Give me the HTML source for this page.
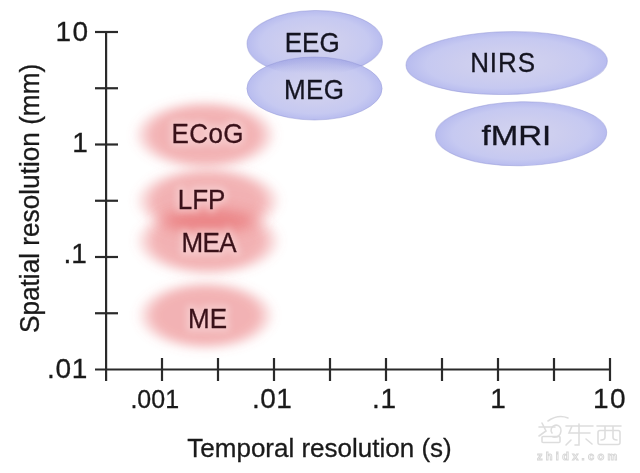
<!DOCTYPE html>
<html>
<head>
<meta charset="utf-8">
<style>
html,body{margin:0;padding:0;background:#fff;width:640px;height:473px;overflow:hidden;}
svg{display:block;will-change:transform;filter:blur(0.35px);}
text{font-family:"Liberation Sans",sans-serif;}
</style>
</head>
<body>
<svg width="640" height="473" viewBox="0 0 640 473">
<defs>
  <radialGradient id="blue" cx="50%" cy="50%" r="50%" fx="50%" fy="50%">
    <stop offset="0%" stop-color="#d3d4ef" stop-opacity="1"/>
    <stop offset="50%" stop-color="#cccdef" stop-opacity="1"/>
    <stop offset="80%" stop-color="#c6c9f1" stop-opacity="1"/>
    <stop offset="100%" stop-color="#b8bcef" stop-opacity="1"/>
  </radialGradient>
  <radialGradient id="pink" cx="50%" cy="50%" r="50%">
    <stop offset="0%" stop-color="#e86c70" stop-opacity="0.52"/>
    <stop offset="72%" stop-color="#e86c70" stop-opacity="0.52"/>
    <stop offset="100%" stop-color="#e86c70" stop-opacity="0.0"/>
  </radialGradient>
  <filter id="blur" x="-30%" y="-60%" width="160%" height="220%">
    <feGaussianBlur stdDeviation="4.5"/>
  </filter>
  <filter id="glow" x="-30%" y="-60%" width="160%" height="220%">
    <feGaussianBlur stdDeviation="3.5"/>
  </filter>
  <filter id="xblur" x="-50%" y="-100%" width="200%" height="300%">
    <feGaussianBlur stdDeviation="7"/>
  </filter>
  <filter id="bblur" x="-10%" y="-20%" width="120%" height="140%">
    <feGaussianBlur stdDeviation="0.5"/>
  </filter>
</defs>
<rect width="640" height="473" fill="#fff"/>
<g>
  <ellipse cx="205" cy="135" rx="72.5" ry="36" fill="url(#pink)" filter="url(#blur)"/>
  <ellipse cx="208" cy="201" rx="74" ry="35.5" fill="url(#pink)" filter="url(#blur)"/>
  <ellipse cx="208" cy="241" rx="74" ry="36" fill="url(#pink)" filter="url(#blur)"/>
  <ellipse cx="205.7" cy="315.5" rx="70" ry="36" fill="url(#pink)" filter="url(#blur)"/>
  <ellipse cx="210" cy="220" rx="55" ry="16" fill="#e86c70" fill-opacity="0.22" filter="url(#xblur)"/>
</g>
<g filter="url(#bblur)" opacity="1">
  <ellipse cx="314.75" cy="43" rx="67.7" ry="32.5" transform="rotate(-0.8 314.75 43)" fill="url(#blue)" stroke="rgba(150,154,215,0.5)" stroke-width="1"/>
  <ellipse cx="314.5" cy="88.5" rx="67.6" ry="31.5" fill="url(#blue)" stroke="rgba(150,154,215,0.5)" stroke-width="1"/>
  <ellipse cx="506.65" cy="63.1" rx="100.7" ry="31.4" transform="rotate(-1.25 506.65 63.1)" fill="url(#blue)" stroke="rgba(150,154,215,0.5)" stroke-width="1"/>
  <ellipse cx="521.15" cy="133.8" rx="85.6" ry="32" transform="rotate(-1 521.15 133.8)" fill="url(#blue)" stroke="rgba(150,154,215,0.5)" stroke-width="1"/>
<clipPath id="eegclip"><ellipse cx="314.75" cy="43" rx="67.7" ry="32.5" transform="rotate(-0.8 314.75 43)"/></clipPath>
<linearGradient id="lensg" gradientUnits="userSpaceOnUse" x1="0" y1="56.5" x2="0" y2="73"><stop offset="0" stop-color="#6c70c8" stop-opacity="0.24"/><stop offset="0.45" stop-color="#6c70c8" stop-opacity="0.17"/><stop offset="1" stop-color="#6c70c8" stop-opacity="0"/></linearGradient>
<ellipse cx="314.5" cy="88.5" rx="67.6" ry="31.5" fill="url(#lensg)" clip-path="url(#eegclip)"/>
</g>
<g stroke="#2a2a2a" stroke-width="2.2" fill="none" shape-rendering="auto">
  <line x1="106.1" y1="31" x2="106.1" y2="381"/>
  <line x1="95" y1="369.5" x2="611" y2="369.5"/>
  <line x1="95" y1="32" x2="118" y2="32"/>
  <line x1="95" y1="88.25" x2="118" y2="88.25"/>
  <line x1="95" y1="144.5" x2="118" y2="144.5"/>
  <line x1="95" y1="200.75" x2="118" y2="200.75"/>
  <line x1="95" y1="257" x2="118" y2="257"/>
  <line x1="95" y1="313.25" x2="118" y2="313.25"/>
  <line x1="162" y1="358" x2="162" y2="381"/>
  <line x1="218" y1="358" x2="218" y2="381"/>
  <line x1="274" y1="358" x2="274" y2="381"/>
  <line x1="330" y1="358" x2="330" y2="381"/>
  <line x1="386" y1="358" x2="386" y2="381"/>
  <line x1="442" y1="358" x2="442" y2="381"/>
  <line x1="498" y1="358" x2="498" y2="381"/>
  <line x1="554" y1="358" x2="554" y2="381"/>
  <line x1="610" y1="358" x2="610" y2="381"/>
</g>
<text transform="translate(55.6,40.8) scale(1,1)" font-size="28" letter-spacing="1.3" fill="#1a1a1a" stroke="#1a1a1a" stroke-width="0.3" font-family="Liberation Mono">10</text>
<text transform="translate(72.3,152.3) scale(1,1)" font-size="28" letter-spacing="0" fill="#1a1a1a" stroke="#1a1a1a" stroke-width="0.3" font-family="Liberation Mono">1</text>
<text transform="translate(63.5,262.5) scale(1,1)" font-size="28" letter-spacing="0" fill="#1a1a1a" stroke="#1a1a1a" stroke-width="0.3" font-family="Liberation Mono">.1</text>
<text transform="translate(46.9,377.7) scale(1,1)" font-size="28" letter-spacing="0.8" fill="#1a1a1a" stroke="#1a1a1a" stroke-width="0.3" font-family="Liberation Mono">.01</text>
<text transform="translate(130.4,408) scale(1,1.055)" font-size="25" letter-spacing="0" fill="#1a1a1a" stroke="#1a1a1a" stroke-width="0.3" font-family="Liberation Sans">.001</text>
<text transform="translate(252,407.5) scale(1,1)" font-size="28" letter-spacing="0.4" fill="#1a1a1a" stroke="#1a1a1a" stroke-width="0.3" font-family="Liberation Mono">.01</text>
<text transform="translate(372,407.5) scale(1,1)" font-size="28" letter-spacing="0.6" fill="#1a1a1a" stroke="#1a1a1a" stroke-width="0.3" font-family="Liberation Mono">.1</text>
<text transform="translate(490.3,407.5) scale(1,1)" font-size="28" letter-spacing="0" fill="#1a1a1a" stroke="#1a1a1a" stroke-width="0.3" font-family="Liberation Mono">1</text>
<text transform="translate(593,407.8) scale(1,1)" font-size="28" letter-spacing="1.5" fill="#1a1a1a" stroke="#1a1a1a" stroke-width="0.3" font-family="Liberation Mono">10</text>
<text transform="translate(187.3,457) scale(1,1.0)" font-size="26" letter-spacing="0" fill="#1a1a1a" stroke="#1a1a1a" stroke-width="0.3">Temporal resolution (s)</text>
<text transform="translate(38.5,333) rotate(-90) scale(1,1.03)" font-size="26.2" letter-spacing="0" fill="#1a1a1a" stroke="#1a1a1a" stroke-width="0.3">Spatial resolution (mm)</text>
<text transform="translate(284.7,52.2) scale(1,1.055)" font-size="26" letter-spacing="0" fill="#141420" stroke="#141420" stroke-width="0.3" font-family="Liberation Sans">EEG</text>
<text transform="translate(284,98.8) scale(1,1.055)" font-size="26" letter-spacing="0.4" fill="#141420" stroke="#141420" stroke-width="0.3" font-family="Liberation Sans">MEG</text>
<text transform="translate(470.2,71.6) scale(1,1.055)" font-size="26" letter-spacing="0.9" fill="#141420" stroke="#141420" stroke-width="0.3" font-family="Liberation Sans">NIRS</text>
<text transform="translate(481.5,144.6) scale(1.27,1.055)" font-size="26" letter-spacing="0" fill="#141420" stroke="#141420" stroke-width="0.3" font-family="Liberation Sans">fMRI</text>
<g opacity="0.3" filter="url(#glow)">
<text transform="translate(171.6,142.8) scale(1,1.055)" font-size="26" letter-spacing="0.4" fill="#ffffff" stroke="#ffffff" stroke-width="7" font-family="Liberation Sans">ECoG</text>
<text transform="translate(177.7,209.1) scale(1,1.055)" font-size="26" letter-spacing="0" fill="#ffffff" stroke="#ffffff" stroke-width="7" font-family="Liberation Sans">LFP</text>
<text transform="translate(181.5,252.1) scale(1,1.055)" font-size="26" letter-spacing="-0.6" fill="#ffffff" stroke="#ffffff" stroke-width="7" font-family="Liberation Sans">MEA</text>
<text transform="translate(188.1,327.5) scale(1,1.055)" font-size="26" letter-spacing="0" fill="#ffffff" stroke="#ffffff" stroke-width="7" font-family="Liberation Sans">ME</text>
</g>
<text transform="translate(171.6,142.8) scale(1,1.055)" font-size="26" letter-spacing="0.4" fill="#3a1119" stroke="#3a1119" stroke-width="0.3" font-family="Liberation Sans">ECoG</text>
<text transform="translate(177.7,209.1) scale(1,1.055)" font-size="26" letter-spacing="0" fill="#3a1119" stroke="#3a1119" stroke-width="0.3" font-family="Liberation Sans">LFP</text>
<text transform="translate(181.5,252.1) scale(1,1.055)" font-size="26" letter-spacing="-0.6" fill="#3a1119" stroke="#3a1119" stroke-width="0.3" font-family="Liberation Sans">MEA</text>
<text transform="translate(188.1,327.5) scale(1,1.055)" font-size="26" letter-spacing="0" fill="#3a1119" stroke="#3a1119" stroke-width="0.3" font-family="Liberation Sans">ME</text>
<g fill="none" stroke="#dadada" stroke-width="1.6" stroke-linecap="round" opacity="0.9">
  <path d="M548 421 Q558 414 568 418"/>
  <path d="M539 427 L555 427 M542 423 L546 431 L539 436"/>
  <path d="M552 433 A5 5 0 1 1 561 431 Q560 438 553 437"/>
  <rect x="542" y="436.5" width="18" height="6" rx="1"/>
  <path d="M566 426 L593 426 M572 426 L569 433 L590 433 M579 424 L579 445 L575 445 M571 440 L566 445 M586 439 L592 444"/>
  <path d="M597 426 L621 426 M605 426 L605 437 Q605 440 601 440 M613 426 L613 437 Q613 440 617 440"/>
  <rect x="598" y="430.5" width="22" height="14" rx="2"/>
</g>
<text x="537" y="460" font-size="11" font-weight="bold" letter-spacing="3.3" fill="#fff" stroke="#d6d6d6" stroke-width="0.9">zhidx.com</text>
</svg>
</body>
</html>
